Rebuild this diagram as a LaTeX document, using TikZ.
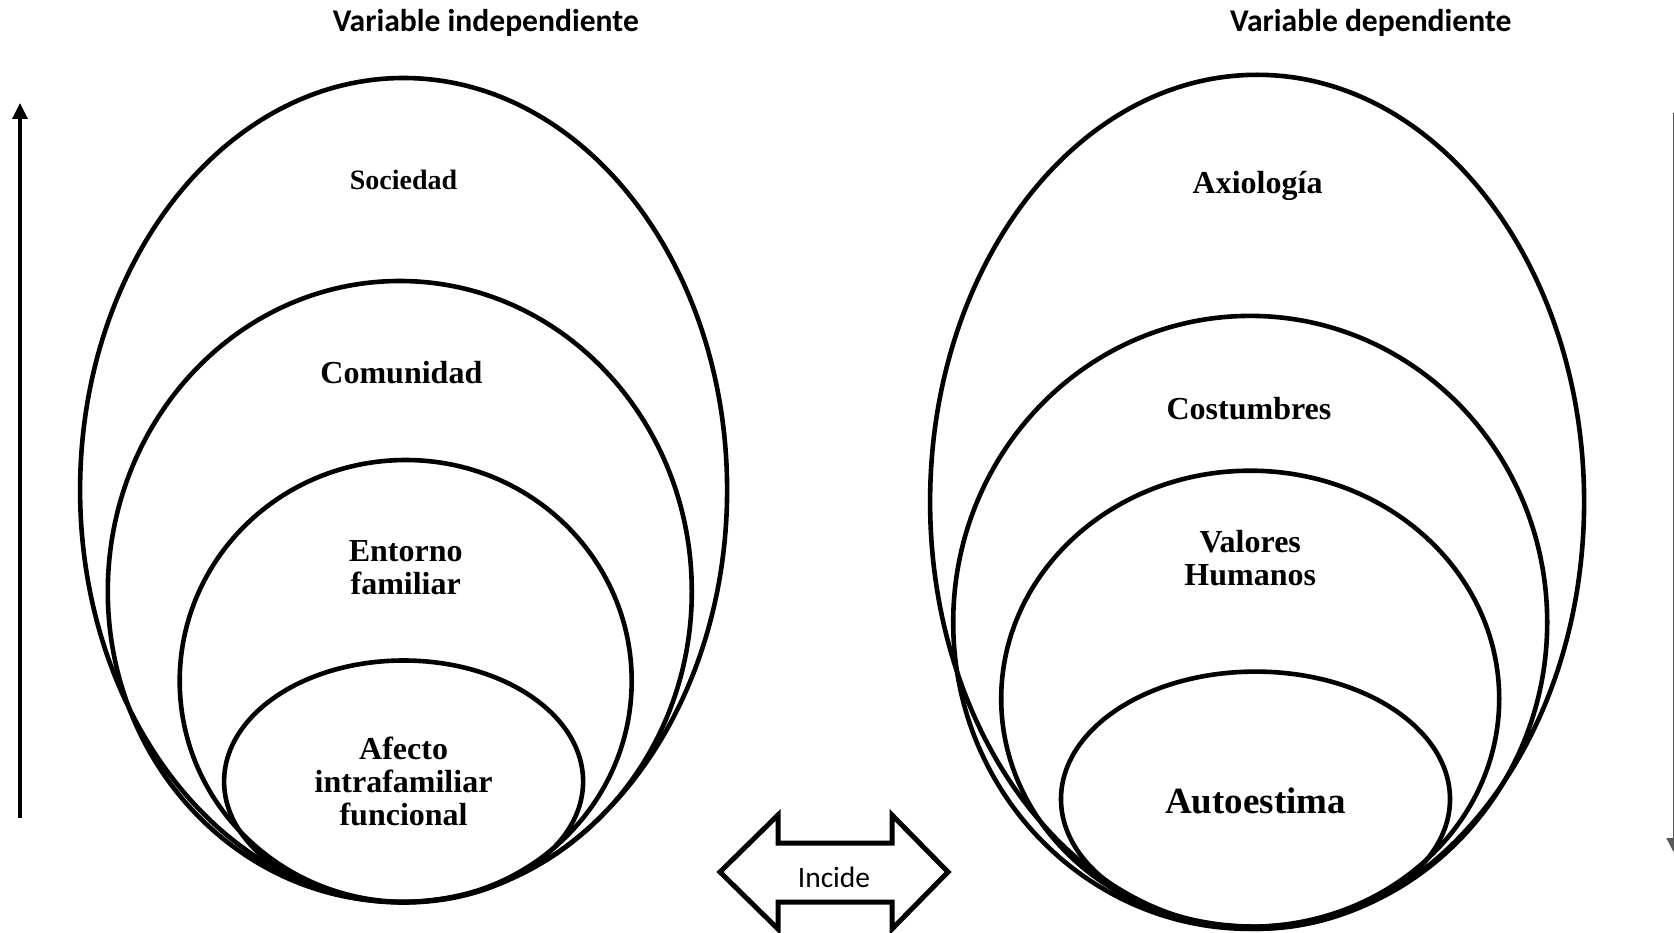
\documentclass[tikz,border=0pt]{standalone}
\usepackage{fontspec}
\setmainfont{Liberation Serif}
\newfontfamily\carlito{Carlito}
\usetikzlibrary{shapes.geometric,arrows.meta}

\begin{document}
\begin{tikzpicture}[x=1pt,y=-1pt,
    ring/.style={ellipse, draw, line width=4.6pt, inner sep=0pt},
    lbl/.style={align=center, font=\fontsize{32}{33}\selectfont\bfseries},
    heading/.style={font=\carlito\fontsize{31.6}{36}\selectfont\bfseries}]
    \useasboundingbox (0,0) rectangle (1674,933);

    \node[heading] (indep) at (485.8,23.4) {Variable independiente};
    \node[heading] (dep) at (1370.8,23.4) {Variable dependiente};

    % variable independiente
    \node[ring, minimum width=647pt, minimum height=824pt] (sociedad) at (403.6,490) {};
    \node[ring, minimum width=584pt, minimum height=621pt] (comunidad) at (399.8,591.5) {};
    \node[ring, minimum width=452pt, minimum height=442pt] (entorno) at (405.7,681) {};
    \node[ring, minimum width=359pt, minimum height=242pt] (afecto) at (403.6,781.5) {};

    \node[lbl, font=\fontsize{28}{30}\selectfont\bfseries] (tsociedad) at (403.6,180.4) {Sociedad};
    \node[lbl] (tcomunidad) at (401.4,372.6) {Comunidad};
    \node[lbl] (tentorno) at (405.7,567.9) {Entorno\\familiar};
    \node[lbl] (tafecto) at (403.6,781.5) {Afecto\\intrafamiliar\\funcional};

    % variable dependiente
    \node[ring, minimum width=654pt, minimum height=854pt] (axiologia) at (1257.1,501.8) {};
    \node[ring, minimum width=594pt, minimum height=613pt] (costumbres) at (1250.2,622.4) {};
    \node[ring, minimum width=498pt, minimum height=456pt] (valores) at (1250.2,698.7) {};
    \node[ring, minimum width=389pt, minimum height=255pt] (autoestima) at (1255.5,799.1) {};

    \node[lbl] (taxiologia) at (1257.6,185.8) {Axiología};
    \node[lbl] (tcostumbres) at (1249,408.9) {Costumbres};
    \node[lbl] (tvalores) at (1250.2,558.4) {Valores\\Humanos};
    \node[lbl, font=\fontsize{37}{40}\selectfont\bfseries] (tautoestima) at (1255.5,800.7) {Autoestima};

    % flechas laterales
    \coordinate (upfrom) at (20,818);
    \coordinate (upto) at (20,103);
    \draw[line width=3.4pt, -{Triangle[width=15pt,length=16pt]}] (upfrom) -- (upto);
    \coordinate (downfrom) at (1673.5,113);
    \coordinate (downto) at (1673.5,852);
    \draw[gray!70!black, line width=1.5pt, -{Triangle[width=14pt,length=14pt]}] (downfrom) -- (downto);

    % incide
    \draw[line width=5pt, line join=miter] (720,872) -- (778,815) -- (778,843) -- (892,843)
        -- (892,815) -- (948,872) -- (892,929) -- (892,902) -- (778,902) -- (778,929) -- cycle;
    \node[font=\carlito\fontsize{29.5}{32}\selectfont] (incide) at (834,877) {Incide};
\end{tikzpicture}
\end{document}
